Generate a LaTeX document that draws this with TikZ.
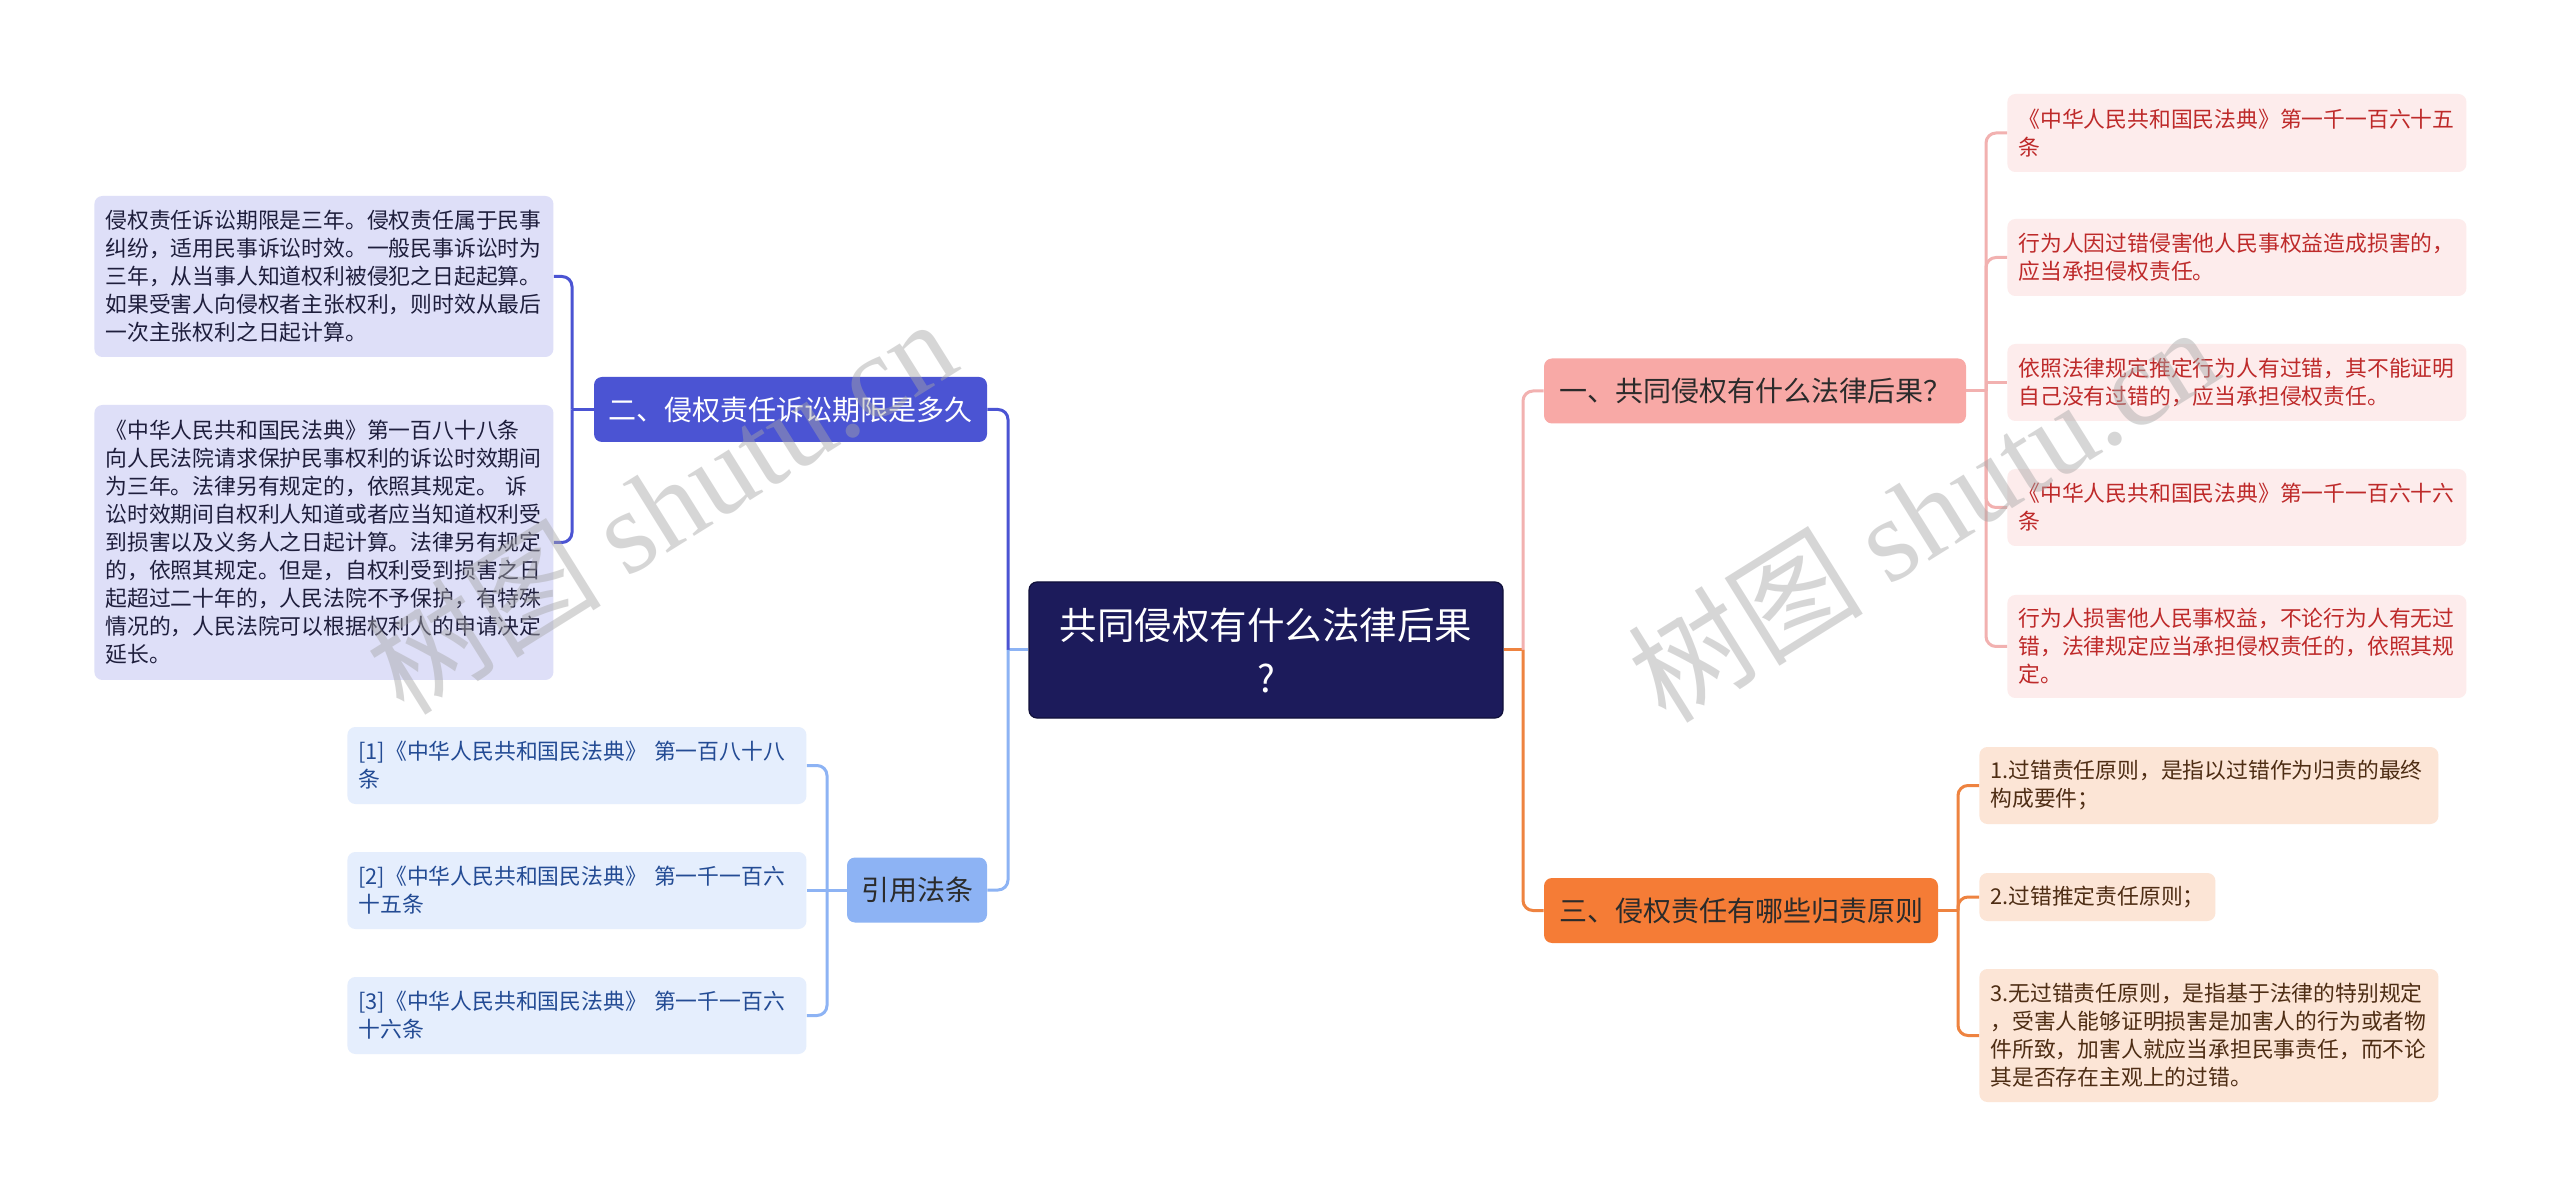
\documentclass[tikz,border=0pt]{standalone}
\usepackage{fontspec}
\setmainfont{Noto Sans CJK SC}
\newfontfamily\wmserif{Liberation Serif}
\definecolor{rootfill}{HTML}{1C1B5B}
\definecolor{rootdraw}{HTML}{10103A}
\definecolor{branchtext}{HTML}{2B2B2B}
\definecolor{limitfill}{HTML}{4B54D3}
\definecolor{lavfill}{HTML}{DEDFF8}
\definecolor{lavtext}{HTML}{1E1E3C}
\definecolor{citefill}{HTML}{8DB3F4}
\definecolor{citeleaf}{HTML}{E5EEFD}
\definecolor{citetext}{HTML}{234B94}
\definecolor{pinkfill}{HTML}{F8A9A6}
\definecolor{pinkline}{HTML}{F2B1B0}
\definecolor{pinkleaf}{HTML}{FDECEC}
\definecolor{pinktext}{HTML}{BE2A2A}
\definecolor{orfill}{HTML}{F57C36}
\definecolor{orline}{HTML}{EE8340}
\definecolor{orleaf}{HTML}{FCE5D6}
\definecolor{ortext}{HTML}{4E2D14}
\begin{document}
\begin{tikzpicture}[x=0.5pt,y=-0.5pt,
  root/.style={fill=rootfill, draw=rootdraw, line width=0.6pt, rounded corners=4pt, text=white, align=center, inner sep=0pt, minimum width=237pt, minimum height=68pt, font=\fontsize{18.75}{26.5}\selectfont},
  branch/.style={rounded corners=4pt, inner sep=0pt, minimum height=32.5pt, font=\fontsize{14}{17}\selectfont},
  leaf/.style={rounded corners=4pt, anchor=west, inner xsep=5.5pt, inner ysep=0pt, align=left, font=\fontsize{10.9}{14}\selectfont},
  wide/.style={text width=218.5pt},
  link/.style={line width=1.5pt, rounded corners=5pt},
  wmark/.style={text=gray!70, text opacity=0.45, font=\fontsize{59}{62}\selectfont, rotate=32}
]
\useasboundingbox (0,0) rectangle (2560,1197);
\fill[white] (0,0) rectangle (2560,1197);

% Draw central node and branches
\node[root] (root) at (1266,650) {共同侵权有什么法律后果\\?};
\node[branch, fill=limitfill, text=white, minimum width=196.5pt] (limit) at (790.5,409.5) {二、侵权责任诉讼期限是多久};
\node[branch, fill=citefill, text=branchtext, minimum width=70pt] (cite) at (917,890) {引用法条};
\node[branch, fill=pinkfill, text=branchtext, minimum width=211pt] (result) at (1755,391) {一、共同侵权有什么法律后果？};
\node[branch, fill=orfill, text=branchtext, minimum width=197pt] (rule) at (1741,910.5) {三、侵权责任有哪些归责原则};

% Left leaves
\node[leaf, wide, fill=lavfill, text=lavtext, minimum height=80.5pt] (term) at (94,276.5) {侵权责任诉讼期限是三年。侵权责任属于民事\\纠纷，适用民事诉讼时效。一般民事诉讼时为\\三年，从当事人知道权利被侵犯之日起起算。\\如果受害人向侵权者主张权利，则时效从最后\\一次主张权利之日起计算。};
\node[leaf, wide, fill=lavfill, text=lavtext, minimum height=137.5pt] (art188) at (94,542.5) {《中华人民共和国民法典》第一百八十八条\\向人民法院请求保护民事权利的诉讼时效期间\\为三年。法律另有规定的，依照其规定。 诉\\讼时效期间自权利人知道或者应当知道权利受\\到损害以及义务人之日起计算。法律另有规定\\的，依照其规定。但是，自权利受到损害之日\\起超过二十年的，人民法院不予保护，有特殊\\情况的，人民法院可以根据权利人的申请决定\\延长。};
\node[leaf, wide, fill=citeleaf, text=citetext, minimum height=38.5pt] (citeA) at (347,765.5) {[1]《中华人民共和国民法典》 第一百八十八\\条};
\node[leaf, wide, fill=citeleaf, text=citetext, minimum height=38.5pt] (citeB) at (347,890.5) {[2]《中华人民共和国民法典》 第一千一百六\\十五条};
\node[leaf, wide, fill=citeleaf, text=citetext, minimum height=38.5pt] (citeC) at (347,1015.5) {[3]《中华人民共和国民法典》 第一千一百六\\十六条};

% Right leaves
\node[leaf, wide, fill=pinkleaf, text=pinktext, minimum height=39pt] (res1) at (2007,133) {《中华人民共和国民法典》第一千一百六十五\\条};
\node[leaf, wide, fill=pinkleaf, text=pinktext, minimum height=38.5pt] (res2) at (2007,257.5) {行为人因过错侵害他人民事权益造成损害的，\\应当承担侵权责任。};
\node[leaf, wide, fill=pinkleaf, text=pinktext, minimum height=38.5pt] (res3) at (2007,382.5) {依照法律规定推定行为人有过错，其不能证明\\自己没有过错的，应当承担侵权责任。};
\node[leaf, wide, fill=pinkleaf, text=pinktext, minimum height=38.5pt] (res4) at (2007,507.5) {《中华人民共和国民法典》第一千一百六十六\\条};
\node[leaf, wide, fill=pinkleaf, text=pinktext, minimum height=51.5pt] (res5) at (2007,646.5) {行为人损害他人民事权益，不论行为人有无过\\错，法律规定应当承担侵权责任的，依照其规\\定。};
\node[leaf, wide, fill=orleaf, text=ortext, minimum height=38.5pt] (rule1) at (1979,785.5) {1.过错责任原则，是指以过错作为归责的最终\\构成要件；};
\node[leaf, text width=107pt, fill=orleaf, text=ortext, minimum height=24pt] (rule2) at (1979,897) {2.过错推定责任原则；};
\node[leaf, wide, fill=orleaf, text=ortext, minimum height=66.5pt] (rule3) at (1979,1035.5) {3.无过错责任原则，是指基于法律的特别规定\\，受害人能够证明损害是加害人的行为或者物\\件所致，加害人就应当承担民事责任，而不论\\其是否存在主观上的过错。};

% Connectors from the centre
\coordinate (jl) at (1008,650);
\coordinate (jr) at (1523,650);
\draw[link, citefill] (root.west) -- (jl);
\draw[link, limitfill] (jl) |- (limit.east);
\draw[link, citefill] (jl) |- (cite.east);
\draw[link, orline] (root.east) -- (jr);
\draw[link, pinkline] (jr) |- (result.west);
\draw[link, orline] (jr) |- (rule.west);

% Connectors to the leaves
\coordinate (tl) at (572,409.5);
\draw[link, limitfill] (limit.west) -- (tl);
\draw[link, limitfill] (tl) |- (term.east);
\draw[link, limitfill] (tl) |- (art188.east);

\coordinate (tc) at (827,890);
\draw[link, citefill] (cite.west) -- (tc);
\draw[link, citefill] (tc) |- (citeA.east);
\draw[link, citefill, sharp corners] (tc) |- (citeB.east);
\draw[link, citefill] (tc) |- (citeC.east);

\coordinate (t1) at (1986,391);
\draw[link, pinkline] (result.east) -- (t1);
\draw[link, pinkline] (t1) |- (res1.west);
\draw[link, pinkline] (t1) |- (res2.west);
\draw[link, pinkline, sharp corners] (t1) |- (res3.west);
\draw[link, pinkline] (t1) |- (res4.west);
\draw[link, pinkline] (t1) |- (res5.west);

\coordinate (t3) at (1958,910.5);
\draw[link, orline] (rule.east) -- (t3);
\draw[link, orline] (t3) |- (rule1.west);
\draw[link, orline] (t3) |- (rule2.west);
\draw[link, orline] (t3) |- (rule3.west);

% Watermarks
\node[wmark] (wmL) at (660,505) {树图 {\wmserif shutu.cn}};
\node[wmark] (wmR) at (1922,513) {树图 {\wmserif shutu.cn}};
\end{tikzpicture}
\end{document}
